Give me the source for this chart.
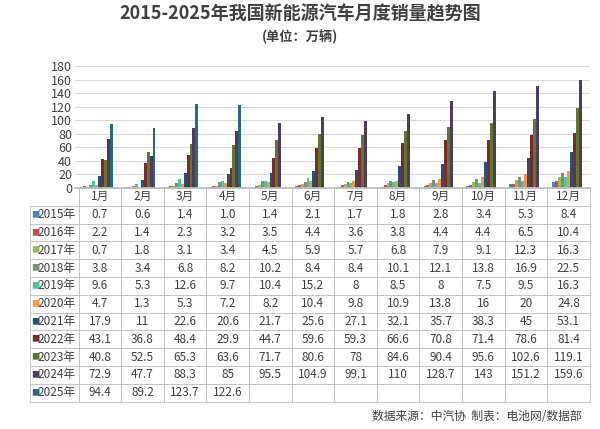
import numpy as np, pandas as pd, matplotlib
matplotlib.use("Agg")
import matplotlib.pyplot as plt, seaborn as sns
sns.set_theme(style="white")
plt.rcParams['font.family'] = ['Noto Sans CJK SC', 'DejaVu Sans']

months = [f"{i}月" for i in range(1, 13)]
years = [f"{y}年" for y in range(2015, 2026)]
v2015 = [0.7,0.6,1.4,1.0,1.4,2.1,1.7,1.8,2.8,3.4,5.3,8.4]
v2016 = [2.2,1.4,2.3,3.2,3.5,4.4,3.6,3.8,4.4,4.4,6.5,10.4]
v2017 = [0.7,1.8,3.1,3.4,4.5,5.9,5.7,6.8,7.9,9.1,12.3,16.3]
v2018 = [3.8,3.4,6.8,8.2,10.2,8.4,8.4,10.1,12.1,13.8,16.9,22.5]
v2019 = [9.6,5.3,12.6,9.7,10.4,15.2,8,8.5,8,7.5,9.5,16.3]
v2020 = [4.7,1.3,5.3,7.2,8.2,10.4,9.8,10.9,13.8,16,20,24.8]
v2021 = [17.9,11,22.6,20.6,21.7,25.6,27.1,32.1,35.7,38.3,45,53.1]
v2022 = [43.1,36.8,48.4,29.9,44.7,59.6,59.3,66.6,70.8,71.4,78.6,81.4]
v2023 = [40.8,52.5,65.3,63.6,71.7,80.6,78,84.6,90.4,95.6,102.6,119.1]
v2024 = [72.9,47.7,88.3,85,95.5,104.9,99.1,110,128.7,143,151.2,159.6]
v2025 = [94.4,89.2,123.7,122.6]+[np.nan]*8
series = [v2015,v2016,v2017,v2018,v2019,v2020,v2021,v2022,v2023,v2024,v2025]
colors = ["#4F81BD","#C0504D","#9BBB59","#7F8C7F","#4BC6A0","#F79646",
          "#2C4D75","#772C2A","#5F7530","#4D3B62","#276A7C"]

df = pd.DataFrame([(m, y, v) for y, s in zip(years, series) for m, v in zip(months, s)],
                  columns=["month", "year", "value"])

fig = plt.figure(figsize=(6, 4.29), dpi=100)
ax = fig.add_axes([0.125, 0.562, 0.858, 0.283])
sns.barplot(data=df, x="month", y="value", hue="year", palette=colors,
            ax=ax, width=0.75, legend=False, saturation=1, linewidth=0)
ax.set_ylim(0, 180)
ax.set_yticks(range(0, 181, 20))
ax.yaxis.grid(True, color="#d9d9d9", lw=0.8)
ax.set_axisbelow(True)
ax.set_xlabel(""); ax.set_ylabel("")
ax.set_xticklabels([])
ax.tick_params(axis="y", labelsize=9, colors="#404040", length=0, pad=2)
ax.tick_params(axis="x", length=0)
for s in ["top", "right", "left"]:
    ax.spines[s].set_visible(False)
ax.spines["bottom"].set_color("#bfbfbf")
ax.set_xlim(-0.5, 11.5)

def fmt(v, yi):
    if np.isnan(v): return ""
    if yi == 0 and v == 1.0: return "1.0"
    return f"{v:g}"
H = 1.76
cells = [[""] + months] + [[""] + [fmt(v, yi) for v in s] for yi, s in enumerate(series)]
tab = ax.table(cellText=cells, bbox=[-0.088, -H, 1.088, H], cellLoc="center")
tab.auto_set_font_size(False)
w0 = 0.095
for (r, c), cell in tab.get_celld().items():
    cell.set_edgecolor("#bfbfbf")
    cell.set_linewidth(0.6)
    cell.set_text_props(fontsize=8.5, color="#404040")
    cell.set_width(w0 if c == 0 else (1.088 - w0) / 12)
    if r == 0 and c == 0:
        cell.visible_edges = "BR"
for i, (y, col) in enumerate(zip(years, colors)):
    yc = -H * (i + 1.5) / 12
    ax.text(-0.086, yc, "■", transform=ax.transAxes, color=col, fontsize=6, va="center", ha="left")
    ax.text(-0.072, yc, y, transform=ax.transAxes, color="#404040", fontsize=8.5, va="center", ha="left")

fig.text(0.5, 0.955, "2015-2025年我国新能源汽车月度销量趋势图", ha="center",
         fontsize=13, fontweight="bold", color="#404040")
fig.text(0.5, 0.905, "(单位：万辆)", ha="center", fontsize=9.5, fontweight="bold", color="#404040")
fig.text(0.97, 0.02, "数据来源：中汽协  制表：电池网/数据部", ha="right", fontsize=8.5, color="#404040")
fig.savefig("out.png", dpi=100)
